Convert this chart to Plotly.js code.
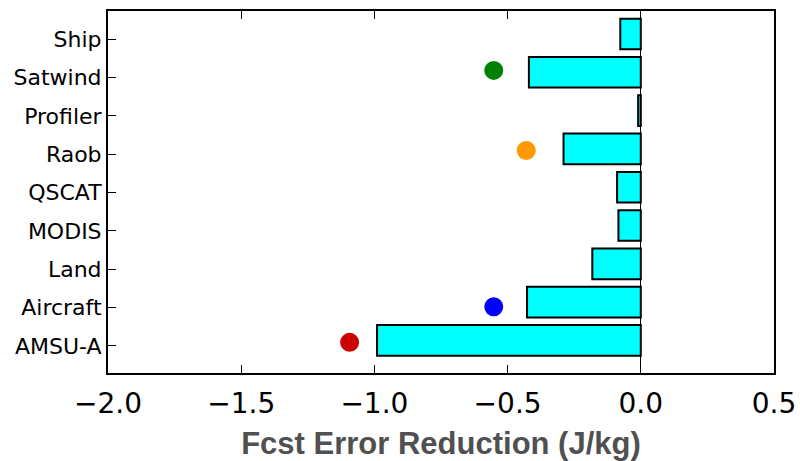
<!DOCTYPE html>
<html>
<head>
<meta charset="utf-8">
<script src="https://cdn.plot.ly/plotly-3.0.1.min.js"></script>
<style>html,body{margin:0;padding:0;background:#fff;}#chart{width:800px;height:461px;}</style>
</head>
<body>
<div id="chart"></div>
<script>
// Categories listed bottom to top
const categories = ["AMSU-A", "Aircraft", "Land", "MODIS", "QSCAT", "Raob", "Profiler", "Satwind", "Ship"];
const barValues = [-0.99, -0.427, -0.182, -0.084, -0.089, -0.29, -0.01, -0.42, -0.077];
const dotCategories = ["AMSU-A", "Aircraft", "Raob", "Satwind"];
const dotValues = [-1.093, -0.552, -0.43, -0.552];
const dotYShift = [0.09, 0.02, 0.10, 0.19];
const dotColors = ["#cc0000", "#0000ff", "#ff9900", "#008000"];
const xTicks = [-2.0, -1.5, -1.0, -0.5, 0.0, 0.5];

const catIndex = categories.map((c, i) => i);
const dotY = dotCategories.map((c, k) => categories.indexOf(c) + dotYShift[k]);

const bars = {
  type: "bar",
  orientation: "h",
  x: barValues,
  y: catIndex,
  width: 0.8,
  offset: -0.26,
  marker: {color: "#00ffff", line: {color: "#000000", width: 2}},
  hoverinfo: "x",
  showlegend: false
};
const dots = {
  type: "scatter",
  mode: "markers",
  x: dotValues,
  y: dotY,
  marker: {color: dotColors, size: 19, line: {width: 0}},
  showlegend: false
};

const layout = {
  width: 800,
  height: 461,
  margin: {l: 108, r: 26, t: 11, b: 88},
  paper_bgcolor: "#ffffff",
  plot_bgcolor: "#ffffff",
  font: {family: "DejaVu Sans", color: "#000000"},
  xaxis: {
    range: [-2.0, 0.5],
    tickvals: xTicks,
    tickformat: ".1f",
    ticks: "inside",
    ticklen: 8,
    tickwidth: 1,
    tickcolor: "#000",
    ticklabelstandoff: 4,
    showline: true,
    linecolor: "#000",
    linewidth: 2,
    mirror: "ticks",
    showgrid: false,
    zeroline: true,
    zerolinecolor: "#000",
    zerolinewidth: 1,
    tickfont: {family: "DejaVu Sans", size: 28, color: "#000"},
    title: {
      text: "<b>Fcst Error Reduction (J/kg)</b>",
      font: {family: "Liberation Sans", size: 31, color: "#505050"},
      standoff: 25
    },
    automargin: false
  },
  yaxis: {
    range: [-0.71, 8.74],
    tickvals: catIndex,
    ticktext: categories,
    ticks: "inside",
    ticklen: 8,
    tickwidth: 1,
    tickcolor: "#000",
    showline: true,
    linecolor: "#000",
    linewidth: 2,
    mirror: true,
    showgrid: false,
    zeroline: false,
    tickfont: {family: "DejaVu Sans", size: 22, color: "#000"},
    automargin: false
  }
};

Plotly.newPlot("chart", [bars, dots], layout, {displayModeBar: false, staticPlot: true});
</script>
</body>
</html>
